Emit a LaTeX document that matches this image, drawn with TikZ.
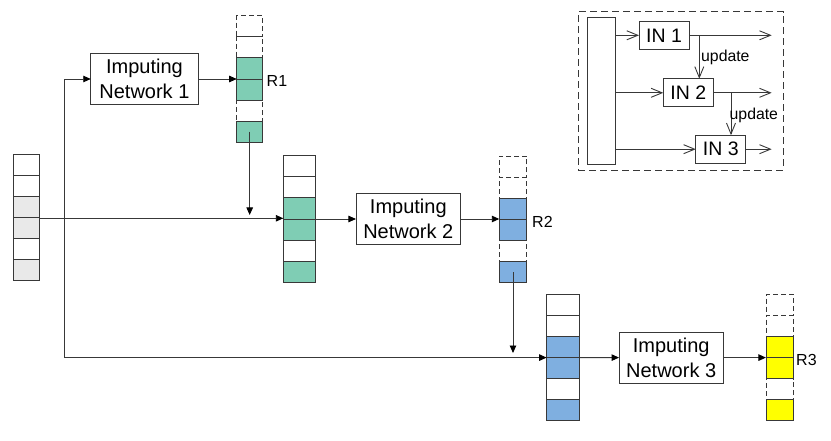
\documentclass[tikz,border=0pt]{standalone}
\usepackage{fontspec}
\setmainfont{Liberation Sans}
\usetikzlibrary{arrows.meta}
\definecolor{lc}{HTML}{383838}
\definecolor{cgreen}{HTML}{7FCDB4}
\definecolor{cblue}{HTML}{7FAFE0}
\definecolor{cyel}{HTML}{FFFF00}
\definecolor{cgray}{HTML}{E9E9E9}
\tikzset{
  base/.style={draw=lc, line width=0.9pt, inner sep=0pt, outer sep=0pt},
  solidcell/.style={base, minimum height=21.1pt},
  dashcell/.style={base, minimum height=21.1pt, dash pattern=on 5pt off 3pt, fill=white},
  netbox/.style={base, fill=white, minimum height=51pt, align=center, font=\fontsize{20}{25}\selectfont},
  inbox/.style={base, fill=white, minimum width=50pt, minimum height=28pt, font=\fontsize{19.5}{22}\selectfont},
  rlab/.style={inner sep=0pt, font=\fontsize{16}{18}\selectfont},
  uplab/.style={inner sep=0pt, font=\fontsize{15.8}{18}\selectfont},
  conn/.style={draw=lc, line width=0.9pt},
  arr/.style={conn, -{Triangle[length=7.5pt,width=6.5pt,color=black]}},
  barb/.style={conn, -{Straight Barb[length=11pt,width=9pt]}},
}
\begin{document}
\begin{tikzpicture}[x=1pt,y=-1pt]
\useasboundingbox (0,0) rectangle (831,441);

% input stack
\foreach \i/\f in {1/white,2/white,3/cgray,4/cgray,5/white,6/cgray}
  \node[solidcell, fill=\f, minimum width=26pt] (in\i) at (26,{154.3+21.1*\i-10.55}) {};

% R1 stack
\foreach \i in {1,2,5}
  \node[dashcell, minimum width=26pt] (ra\i) at (249.7,{15.7+21.1*\i-10.55}) {};
\foreach \i in {3,4,6}
  \node[solidcell, fill=cgreen, minimum width=26pt] (ra\i) at (249.7,{15.7+21.1*\i-10.55}) {};

% stack 2
\foreach \i/\f in {1/white,2/white,3/cgreen,4/cgreen,5/white,6/cgreen}
  \node[solidcell, fill=\f, minimum width=32.4pt] (sb\i) at (299.5,{155.7+21.1*\i-10.55}) {};

% R2 stack
\foreach \i in {1,2,5}
  \node[dashcell, minimum width=27.4pt] (rb\i) at (513,{156+21.1*\i-10.55}) {};
\foreach \i in {3,4,6}
  \node[solidcell, fill=cblue, minimum width=27.4pt] (rb\i) at (513,{156+21.1*\i-10.55}) {};

% stack 3
\foreach \i/\f in {1/white,2/white,3/cblue,4/cblue,5/white,6/cblue}
  \node[solidcell, fill=\f, minimum width=32.3pt] (sc\i) at (562.8,{294.3+21.1*\i-10.55}) {};

% R3 stack
\foreach \i in {1,2,5}
  \node[dashcell, minimum width=27.3pt] (rc\i) at (779.6,{294.3+21.1*\i-10.55}) {};
\foreach \i in {3,4,6}
  \node[solidcell, fill=cyel, minimum width=27.3pt] (rc\i) at (779.6,{294.3+21.1*\i-10.55}) {};

% networks
\node[netbox, minimum width=107.3pt] (net1) at (144.4,79) {Imputing\\Network 1};
\node[netbox, minimum width=104.7pt] (net2) at (408.3,219) {Imputing\\Network 2};
\node[netbox, minimum width=104.3pt] (net3) at (671.2,357.6) {Imputing\\Network 3};

% labels
\node[rlab, anchor=west] (l1) at (266.5,81) {R1};
\node[rlab, anchor=west] (l2) at (532,222) {R2};
\node[rlab, anchor=west] (l3) at (796,360) {R3};

% connectors
\coordinate (jtop) at (64.3,79);
\coordinate (jbot) at (64.3,357.6);
\coordinate (hstart) at (39,218.3);
\coordinate (hend) at (283.3,218.3);
\coordinate (d1end) at (249.7,215);
\coordinate (d2end) at (513,353);

\draw[arr] (jbot) -- (jtop) -- (net1.west);
\draw[arr] (jbot) -- (jbot -| sc4.west);
\draw[arr] (hstart) -- (hend);
\draw[arr] (net1.east) -- (net1.east -| ra4.west);
\draw[arr] (ra6.center) -- (d1end);
\draw[arr] (sb3.south east) -- (net2.west);
\draw[arr] (net2.east) -- (net2.east -| rb4.west);
\draw[arr] (rb6.center) -- (d2end);
\draw[arr] (sc3.south east) -- (net3.west);
\draw[arr] (net3.east) -- (net3.east -| rc4.west);

% inset
\node[base, dash pattern=on 7pt off 4pt, minimum width=205pt, minimum height=158.3pt] (frame) at (680.8,90.85) {};
\node[base, fill=white, minimum width=28.4pt, minimum height=147pt] (tall) at (601.5,90.8) {};
\node[inbox] (in1b) at (664,35.3) {IN 1};
\node[inbox] (in2b) at (688.3,92.8) {IN 2};
\node[inbox] (in3b) at (720.8,149.2) {IN 3};

\coordinate (o1) at (771.7,35.3);
\coordinate (o2) at (771.7,92.8);
\coordinate (o3) at (771.7,149.2);
\coordinate (u1) at (699.3,35.3);
\coordinate (u2) at (731,92.8);

\draw[barb] (tall.east |- in1b.west) -- (in1b.west);
\draw[barb] (tall.east |- in2b.west) -- (in2b.west);
\draw[barb] (tall.east |- in3b.west) -- (in3b.west);
\draw[barb] (in1b.east) -- (o1);
\draw[barb] (in2b.east) -- (o2);
\draw[barb] (in3b.east) -- (o3);
\draw[barb] (u1) -- (u1 |- in2b.north);
\draw[barb] (u2) -- (u2 |- in3b.north);
\node[uplab, anchor=west] (up1) at (701,57.3) {update};
\node[uplab, anchor=west] (up2) at (729.5,115) {update};
\end{tikzpicture}
\end{document}
